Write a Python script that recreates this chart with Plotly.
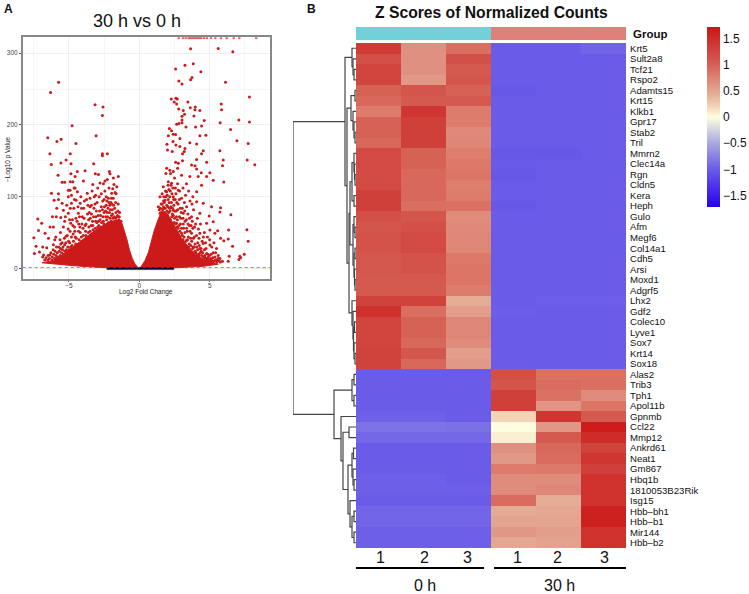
import plotly.graph_objects as go

W, H = 749, 594

# ---------- Panel A: volcano ----------
left_points = [
(-5.73,259.5),(-6.3,245),(-6.5,182),(-5.85,177),(-5.55,180),(-6.35,160),(-6.25,145),(-5.57,147),(-5.2,151),(-4.9,160),
(-4.5,174),(-4.77,199),(-3.14,228),(-2.58,225),(-2.62,213),(-3.07,185),(-2.62,160),(-2.27,160),(-2.62,157),(-3.24,146),
(-5.77,130),(-4.86,132),(-5.48,120),(-5.3,120),(-4.9,121),(-4.72,121),(-4.85,146),(-3.85,136),(-4.4,135),(-4.56,128),
(-3.12,132),(-2.9,131),(-2.13,135),(-2.08,132),(-2.44,122),(-2.27,124),(-1.84,126),(-1.49,128),(-3.97,122),(-3.3,117),
(-2.79,119),(-1.8,117),(-1.89,111),(-1.96,105),(-4.56,112),(-4.92,109),(-6.24,105),(-6.05,95),(-5.74,96),(-5.74,104),
(-5.86,84),(-5.9,72),(-6.17,72),(-5.58,71),(-5.39,81),(-5.48,91),(-5.04,100),(-4.82,102),(-4.63,112),(-4.4,107),
(-4.49,95),(-5.04,109),(-4.82,91),(-4.2,91),(-4.33,77),(-5.04,77),(-4.87,63),(-5.39,58),(-6.1,58),(-6.34,58),
(-7.21,69),(-6.93,63),(-7.16,53),(-7.49,43),(-6.69,49),(-6.45,42),(-7.33,31),(-6.86,30),(-7.45,21),(-7.09,23),
(-6.57,29),(-6.1,33),(-6.86,16),(-6.34,19),(-5.93,44),(-5.63,40),(-5.6,28),(-5.3,33),(-5.2,45),(-5.05,55),
(-4.95,36),(-4.7,48),(-4.6,58),(-4.5,70),(-4.65,84),(-4.3,62),(-4.2,50),(-4.1,38),(-4.05,72),(-3.95,84),
(-3.85,60),(-3.8,46),(-3.75,96),(-3.7,105),(-3.6,68),(-3.55,78),(-3.5,52),(-3.45,40),(-3.4,88),(-3.3,60),
(-3.25,72),(-3.2,100),(-3.15,46),(-3.05,80),(-3.0,92),(-2.95,58),(-2.9,66),(-2.85,100),(-2.8,48),(-2.75,74),
(-2.7,86),(-2.65,56),(-2.6,94),(-2.55,66),(-2.5,78),(-2.45,108),(-2.4,52),(-2.35,88),(-2.3,62),(-2.25,72),
(-2.2,98),(-2.15,112),(-2.1,58),(-2.05,82),(-2.0,66),(-1.95,90),(-1.9,76),(-1.85,98),(-1.8,62),(-1.75,84),
(-1.7,70),(-1.65,104),(-1.6,66),(-1.55,74),(-1.5,90),(-1.45,68),(-1.4,78),(-1.35,62),(-1.3,66),(-3.6,35),
(-4.45,30),(-5.2,22),(-5.5,16),(-5.9,14),(-6.2,12),(-6.5,12),(-4.8,26),(-4.3,26),(-3.9,32),(-3.2,38),
(-2.6,42),(-2.1,52),(-1.75,60),(-4.0,56),(-3.65,88),(-4.75,68),(-5.3,66),(-5.6,50),(-6.0,40),(-5.45,26),
(-4.15,100),(-3.35,108),(-2.95,112),(-2.55,118),(-1.6,114),(-1.72,106),(-2.35,100),(-3.1,66),(-3.4,76),(-4.55,44),
]
left_dense_points = [
(-1.42,72),(-1.52,80),(-1.58,72),(-1.66,78),(-1.68,92),(-1.78,72),(-1.82,88),(-1.88,70),(-1.92,82),(-1.98,74),
(-2.02,92),(-2.08,70),(-2.12,78),(-2.18,64),(-2.22,84),(-2.28,78),(-2.32,68),(-2.38,72),(-2.42,60),(-2.48,86),
(-2.52,62),(-2.58,72),(-2.62,82),(-2.68,64),(-2.72,58),(-2.78,68),(-2.82,80),(-2.88,60),(-2.92,74),(-2.98,52),
(-3.02,64),(-3.08,72),(-3.12,56),(-3.18,50),(-3.22,84),(-3.28,54),(-3.32,66),(-3.38,48),(-3.42,60),(-3.48,70),
(-3.52,44),(-3.58,58),(-3.62,50),(-3.68,76),(-3.72,42),(-3.78,62),(-3.82,52),(-3.88,40),(-3.92,70),(-3.98,46),
(-4.02,36),(-4.08,62),(-4.12,44),(-4.18,34),(-4.22,58),(-4.28,40),(-4.32,52),(-4.38,32),(-4.42,66),(-4.48,42),
(-4.52,34),(-4.58,52),(-4.62,28),(-4.68,38),(-4.72,60),(-4.78,32),(-4.82,44),(-4.88,30),(-4.92,52),(-4.98,26),
(-5.02,38),(-5.08,30),(-5.12,46),(-5.18,26),(-5.22,36),(-5.28,24),(-5.32,42),(-5.38,20),(-5.42,30),(-5.48,36),
(-5.52,22),(-5.58,34),(-5.62,18),(-5.68,24),(-5.72,30),(-5.78,16),(-5.82,22),(-5.88,30),(-5.92,18),(-5.98,24),
(-6.02,14),(-6.08,20),(-6.12,26),(-6.18,16),(-6.28,22),(-6.38,14),(-6.48,18),(-6.62,15),(-6.72,12),(-6.8,19),
(-2.1,88),(-2.3,94),(-2.5,96),(-2.7,104),(-3.1,102),(-3.5,98),(-3.9,94),(-4.1,84),(-4.35,86),(-4.6,96),
(-4.9,84),(-5.15,88),(-5.25,72),(-4.95,68),(-4.25,72),(-3.5,86),(-3.15,90),(-2.4,80),(-2.15,92),(-1.98,98),
]
right_points = [
(3.64,306),(5.6,306.5),(6.64,302),(3.83,285),(3.24,283),(2.58,278),(4.37,274),(2.81,261),(3.74,266),(3.64,263),
(3.03,257),(6.12,259.5),(7.82,239),(2.27,236),(2.6,237),(2.7,236),(2.48,232),(2.65,229),(3.45,232),(5.82,229),
(5.84,221),(3.97,225),(3.95,221),(4.3,220),(3.62,224),(2.79,222),(3.12,220),(3.21,215),(3.03,212),(3.03,207),
(3.88,212.5),(4.61,206),(7.07,207),(5.74,203),(7.82,204),(2.65,201),(2.81,202),(3.03,203),(3.31,197),(4,197),
(6.48,193.5),(2.13,195),(2.29,192),(4.42,198.6),(4.3,185),(4.73,185.6),(2.06,185),(2.41,187),(2.58,186.5),(2.88,181),
(6.93,178),(7.73,174),(1.96,173),(2.39,177),(2.6,172),(4.07,173.5),(3.59,175),(2.88,170),(3.24,167),(3.19,163),
(4.54,164),(5.72,164),(2.34,163),(2.0,165),(3.07,160),(4.42,160),(5.96,151),(7.66,151),(2.58,148),(2.77,146.5),
(3.07,150),(4.07,152),(4.78,148),(5.91,143),(8.2,144.6),(3.71,144),(3.95,143),(1.94,139.5),(2.17,137),(2.72,139.5),
(4.07,138.6),(4.4,133.5),(5.01,133.5),(4.78,128),(5.25,123),(6.0,120.5),(1.89,132.5),(2.22,132.5),(2.41,135),(3.0,130),
(3.59,128),(4.18,128),(2.06,121),(2.29,118.6),(1.7,114),(2.77,109),(4.07,107),(4.42,116),(1.94,107),(1.47,100),
(1.82,95),(2.41,100),(3.0,98),(3.36,86),(4.07,93),(4.54,91),(5.13,86),(5.77,84.6),(5.72,78.6),(6.5,75),
(4.96,73),(4.3,77),(1.35,86),(1.47,77),(2.41,81),(3.12,77),(3.71,72),(4.78,63),(5.25,65),(5.56,52.6),
(6.34,53.5),(7.64,54),(7.73,38),(5.77,42),(6,38.6),(6.31,41),(6.62,31),(5.37,49),(5.01,53.5),(4.3,49),
(3.71,49),(4.54,35),(5.01,32.6),(5.48,28),(7.45,20),(7.14,17),(7.19,15),(7.07,12.5),(6.38,17),(6.31,10),
(5.72,14),(5.37,16),(4.78,21),(4.3,28),(3.83,30),(3.36,39.5),(3,49),(2.65,63),(2.06,65),(1.7,72),
(1.55,90),(1.62,104),(1.75,84),(1.8,78),(1.88,100),(1.95,88),(2.0,74),(2.05,96),(2.1,110),(2.15,84),
(2.2,68),(2.28,92),(2.35,76),(2.45,88),(2.5,70),(2.55,96),(2.62,80),(2.7,58),(2.75,90),(2.85,72),
(2.92,62),(3.05,84),(3.15,56),(3.25,66),(3.4,52),(3.45,76),(3.55,60),(3.65,42),(3.8,56),(3.9,44),
(4.0,62),(4.15,36),(4.2,55),(4.4,24),(4.55,44),(4.65,18),(4.9,16),(5.1,14),(5.25,22),(5.5,12),
(5.65,11),(5.9,10),(3.1,40),(2.8,46),(2.45,54),(3.5,30),(3.95,24),(4.25,19),(1.65,82),(1.72,94),
(2.25,116),(2.5,126),(2.72,118),(3.35,118),(3.5,108),(3.8,100),(2.6,104),(3.2,92),(3.6,94),(3.85,82),
]
right_dense_points = [
(1.42,82),(1.5,84),(1.56,78),(1.62,90),(1.68,78),(1.72,86),(1.78,92),(1.84,84),(1.9,76),(1.96,80),
(2.02,86),(2.08,78),(2.12,92),(2.18,80),(2.24,86),(2.3,72),(2.36,84),(2.42,74),(2.48,64),(2.52,80),
(2.58,62),(2.64,72),(2.7,68),(2.76,56),(2.82,60),(2.88,52),(2.94,70),(3.0,56),(3.06,46),(3.12,62),
(3.18,44),(3.24,50),(3.3,38),(3.36,56),(3.42,40),(3.48,44),(3.54,34),(3.6,52),(3.66,32),(3.72,38),
(3.78,28),(3.84,42),(3.9,30),(3.96,34),(4.02,22),(4.08,30),(4.14,26),(4.2,20),(4.26,32),(4.32,22),
(4.38,28),(4.44,18),(4.5,22),(4.56,16),(4.62,26),(4.68,15),(4.74,28),(4.8,14),(4.86,20),(4.92,13),
(4.98,18),(5.04,12),(5.1,20),(5.16,11),(5.22,15),(5.3,10),(5.4,12),(5.5,9),(5.6,14),(5.75,9),
(1.74,100),(1.86,108),(1.98,102),(2.04,116),(2.16,100),(2.2,108),(2.32,104),(2.38,112),(2.44,96),(2.56,112),
(2.66,92),(2.72,82),(2.84,96),(2.9,84),(2.98,78),(3.1,70),(3.22,80),(3.34,68),(3.46,62),(3.56,70),
(3.68,60),(3.76,66),(3.92,58),(4.06,46),(4.12,70),(4.24,42),(4.34,62),(4.46,38),(4.62,50),(4.7,36),
(4.84,44),(5.0,40),(5.14,30),(5.3,36),(5.42,22),(5.6,18),(2.86,108),(3.1,112),(3.28,102),(3.74,90),
]
top_row_fc = [2.8,3.1,3.3,3.5,3.6,3.7,3.8,3.9,4.0,4.1,4.2,4.3,4.4,4.6,4.8,5.1,5.4,5.8,6.2,6.7,7.1,8.3]
top_row_p = [321] * len(top_row_fc)
core_left_fc = [-0.05,-0.3,-0.5,-0.7,-0.9,-1.1,-1.25,-1.6,-2.2,-3.0,-3.5,-4.0,-4.5,-5.0,-5.5,-6.1,-6.9,-6.0,-5.0,-4.0,-3.0,-2.3,-0.05]
core_left_p = [0.5,6,14,26,42,55,64,68,64,55,48,41,33,26,18,11,8,6,4.5,3,2,1,0.5]
core_right_fc = [0.05,0.4,0.64,0.87,1.06,1.35,1.55,2.0,2.5,3.0,3.5,4.0,4.5,5.0,5.6,4.5,3.5,2.5,0.05]
core_right_p = [0.5,11,22,39,53,69,78,76,60,42,30,20,14,10,6,3,2,1,0.5]
ns_fc = [-2.3,-0.5,0,0.5,2.45,2.45,0.5,-0.5,-2.3,-2.3]
ns_p = [1.3,1.3,0.3,1.3,1.3,-1.5,-1.5,-1.5,-1.5,1.3]
threshold_fc = [-8.28, 9.28]
threshold_p = [1.3, 1.3]

# ---------- Panel B: heatmap ----------
genes = ["Krt5","Sult2a8","Tcf21","Rspo2","Adamts15","Krt15","Klkb1","Gpr17","Stab2","Tril","Mmrn2","Clec14a","Rgn","Cldn5","Kera","Heph",
         "Gulo","Afm","Megf6","Col14a1","Cdh5","Arsi","Moxd1","Adgrf5","Lhx2","Gdf2","Colec10","Lyve1","Sox7","Krt14","Sox18",
         "Alas2","Trib3","Tph1","Apol11b","Gpnmb","Ccl22","Mmp12","Ankrd61","Neat1","Gm867","Hbq1b","1810053B23Rik","Isg15",
         "Hbb–bh1","Hbb–b1","Mir144","Hbb–b2"]
samples = ["1","2","3","1","2","3"]
sample_pixels = [380,424,467,517,557,604]
z_0h_1 = [1.35,1.15,1.25,1.25,1.0,.95,.8,1.0,1.0,.95,1.2,1.2,1.2,1.2,1.3,1.3,1.15,1.1,1.12,1.12,1.08,1.08,1.05,1.05,1.28,1.45,1.25,1.25,1.25,1.28,1.28,
          -1,-1,-1,-1,-.97,-.85,-.92,-1,-1,-1,-.98,-.98,-1,-.94,-.94,-.98,-.98]
z_0h_2 = [.65,.65,.65,.58,1.1,1.05,1.4,1.3,1.3,1.3,1.0,1.0,.95,.95,.95,.9,1.1,1.15,1.2,1.2,1.12,1.12,1.05,1.05,1.28,.9,1.0,1.0,.95,1.08,.95,
          -1,-1,-1,-1,-.97,-.85,-.92,-1,-1,-1,-.98,-.98,-1,-.94,-.94,-.98,-.98]
z_0h_3 = [.9,1.15,1.05,1.1,1.0,1.05,.8,.8,.7,.72,.78,.82,.85,.78,.8,.88,.68,.7,.72,.72,.82,.85,.85,.8,.45,.55,.72,.72,.68,.55,.58,
          -1,-1,-1,-1,-1,-.87,-.92,-1,-1,-1,-1,-.98,-1,-.94,-.94,-.98,-.98]
z_30h_1 = [-1,-1,-1,-1,-1.03,-1,-1,-1,-1,-1,-1.03,-1.01,-1.03,-1,-1,-1.03,-1,-1,-1,-1,-1,-1,-1,-1,-1,-.99,-1,-1,-1,-1,-1,
           1.15,1.1,1.3,1.32,.2,0.0,.07,.65,.58,.8,.68,.68,.92,.45,.5,.6,.48]
z_30h_2 = [-1,-1,-1,-1,-1,-1,-1,-1,-1,-1,-1.03,-1,-1,-1,-1,-1,-1,-1,-1,-1,-1,-1,-1,-1,-.99,-1,-1,-1,-1,-1,-1,
           .88,.92,.88,.62,1.4,.6,1.05,.95,.92,.82,.68,.72,.45,.48,.5,.55,.52]
z_30h_3 = [-.95,-1,-1,-1,-1,-1,-1,-1,-1,-1,-1,-1,-1,-1,-1,-1,-1,-1,-1,-1,-1,-1,-1,-1,-.99,-1,-1,-1,-1,-1,-1,
           .88,.9,.68,.85,1.05,1.65,1.5,1.28,1.4,1.3,1.45,1.45,1.45,1.6,1.6,1.45,1.45]
colorbar_ticks = [-1.5,-1,-0.5,0,0.5,1,1.5]
colorbar_labels = ["−1.5","−1","−0.5","0","0.5","1","1.5"]
group_codes = [0,0,0,1,1,1]

# row dendrogram: (merge height, child, child); a bare integer is a row
cluster_c1 = (4,0,(3,1,(2,2,3)))
cluster_c3 = (5,(1,4,5),(3,6,(2,7,(1,8,9))))
cluster_m = (4,(2,10,(1.5,11,(1,12,13))),(2,14,15))
cluster_g = (3,(2,16,(1,17,18)),(2,(1,19,20),(1.5,21,(1,22,23))))
cluster_c6 = (4,24,(3,25,(2.5,(1.5,26,27),(2,28,(1,29,30)))))
cluster_up = (11,cluster_c1,(9,cluster_c3,(7,(6,cluster_m,cluster_g),cluster_c6)))
cluster_l1 = (4,(2,31,32),(2,33,34))
cluster_l5 = (4,(2.5,38,39),(3,40,(2,41,42)))
cluster_l6 = (6,43,(4,(2,44,45),(2,46,47)))
cluster_low = (22,cluster_l1,(15,35,(13,(7,36,37),(8,cluster_l5,cluster_l6))))
row_tree = (63,cluster_up,cluster_low)

dx, dy = [], []
def walk(node):
    if isinstance(node, int):
        return 0, node
    h, a, b = node
    ha, ya = walk(a)
    hb, yb = walk(b)
    dx.extend([ha, h, h, hb, None])
    dy.extend([ya, ya, yb, yb, None])
    return h, (ya + yb) / 2
walk(row_tree)

FONT = "Liberation Sans"
ZMAX = 1.72
def st(v):
    return (v + ZMAX) / (2 * ZMAX)
scale = [[st(-1.72),"#2800f0"],[st(-1.0),"#6a5ce8"],[st(-.5),"#aaa8e0"],[st(-.2),"#dcdce0"],[st(0),"#fdfde0"],
         [st(.2),"#f3d5b5"],[st(.45),"#e4ab95"],[st(.65),"#e09080"],[st(.85),"#dc7565"],[st(1.05),"#d45a50"],
         [st(1.3),"#d0403a"],[st(1.72),"#cc1515"]]

def dom_x(a, b): return [a / W, b / W]
def dom_y(top, bot): return [1 - bot / H, 1 - top / H]

fig = go.Figure()
RED = "#cc1a1a"
fig.add_trace(go.Scatter(x=core_left_fc, y=core_left_p, mode="lines", fill="toself", fillcolor=RED, line=dict(color=RED, width=1), hoverinfo="skip", xaxis="x", yaxis="y"))
fig.add_trace(go.Scatter(x=core_right_fc, y=core_right_p, mode="lines", fill="toself", fillcolor=RED, line=dict(color=RED, width=1), hoverinfo="skip", xaxis="x", yaxis="y"))
for pts in (left_points, left_dense_points, right_points, right_dense_points):
    fig.add_trace(go.Scatter(x=[p[0] for p in pts], y=[p[1] for p in pts], mode="markers", marker=dict(color=RED, size=3), xaxis="x", yaxis="y"))
fig.add_trace(go.Scatter(x=top_row_fc, y=top_row_p, mode="markers", marker=dict(color="#e06060", size=2.6), xaxis="x", yaxis="y"))
fig.add_trace(go.Scatter(x=ns_fc, y=ns_p, mode="lines", fill="toself", fillcolor="#0a0a30", line=dict(color="#0a0a30", width=0.5), xaxis="x", yaxis="y"))
fig.add_trace(go.Scatter(x=threshold_fc, y=threshold_p, mode="lines", line=dict(color="rgba(70,70,255,0.7)", width=1, dash="dot"), xaxis="x", yaxis="y"))

z_rows = [list(r) for r in zip(z_0h_1, z_0h_2, z_0h_3, z_30h_1, z_30h_2, z_30h_3)]
fig.add_trace(go.Heatmap(z=z_rows, x=list(range(6)), y=list(range(len(genes))), zmin=-ZMAX, zmax=ZMAX, colorscale=scale,
    xgap=0, ygap=0, xaxis="x2", yaxis="y2",
    colorbar=dict(x=707/W, xanchor="left", y=1-27/H, yanchor="top", lenmode="pixels", len=180, thickness=13, thicknessmode="pixels",
                  xpad=0, ypad=0, outlinewidth=0, tickvals=colorbar_ticks, ticktext=colorbar_labels, ticks="",
                  tickfont=dict(family=FONT, size=12, color="#111"))))
fig.add_trace(go.Heatmap(z=[group_codes], x=list(range(6)), y=[0], zmin=0, zmax=1, showscale=False,
    colorscale=[[0,"#72d0d8"],[1,"#e0807a"]], xaxis="x3", yaxis="y3"))
fig.add_trace(go.Scatter(x=dx, y=dy, mode="lines", line=dict(color="#444", width=1.2), xaxis="x4", yaxis="y4"))

hidden = dict(visible=False, showgrid=False, zeroline=False)
fig.update_layout(
    width=W, height=H, autosize=False, margin=dict(l=0, r=0, t=0, b=0), showlegend=False,
    paper_bgcolor="white", plot_bgcolor="white", font=dict(family=FONT),
    xaxis=dict(domain=dom_x(22.7,270), range=[-8.28,9.28], tick0=0, dtick=5, showgrid=True, gridcolor="#efefef", gridwidth=1,
               minor=dict(dtick=2.5, showgrid=True, gridcolor="#f6f6f6", gridwidth=1), zeroline=False,
               showline=True, mirror=True, linecolor="#888", linewidth=1.5, ticks="outside", ticklen=1, tickcolor="#555",
               ticklabelstandoff=-2, tickfont=dict(size=6.5, color="#444")),
    yaxis=dict(domain=dom_y(37.3,279.3), range=[-15,322], tick0=0, dtick=100, showgrid=True, gridcolor="#efefef", gridwidth=1,
               minor=dict(dtick=50, showgrid=True, gridcolor="#f6f6f6", gridwidth=1), zeroline=False,
               showline=True, mirror=True, linecolor="#888", linewidth=1.5, ticks="outside", ticklen=2, tickcolor="#555",
               tickfont=dict(size=6.5, color="#444")),
    xaxis2=dict(domain=dom_x(356,626), range=[-0.5,5.5], showticklabels=False, showgrid=False, zeroline=False, ticks="", anchor="y2"),
    yaxis2=dict(domain=dom_y(43,548), range=[47.5,-0.5], tickvals=list(range(len(genes))), ticktext=genes, side="right", showgrid=False, zeroline=False,
                ticks="", ticklabelstandoff=3, tickfont=dict(size=9.6, color="#111"), anchor="x2", automargin=False),
    xaxis3=dict(domain=dom_x(356,626), range=[-0.5,5.5], anchor="y3", **hidden),
    yaxis3=dict(domain=dom_y(27,40), range=[-0.5,0.5], anchor="x3", **hidden),
    xaxis4=dict(domain=dom_x(293,356), range=[63,0], anchor="y4", **hidden),
    yaxis4=dict(domain=dom_y(43,548), range=[47.5,-0.5], anchor="x4", **hidden),
    shapes=[dict(type="line", xref="paper", yref="paper", x0=a/W, x1=b/W, y0=1-568/H, y1=1-568/H, line=dict(color="black", width=2))
            for a, b in ((356,484),(494,626))],
)
def note(x, y, text, size, bold=False, anchor="center", angle=0, color="#111"):
    fig.add_annotation(xref="paper", yref="paper", x=x/W, y=1-y/H, text=f"<b>{text}</b>" if bold else text, showarrow=False,
                       xanchor=anchor, yanchor="middle", textangle=angle, font=dict(family=FONT, size=size, color=color))
note(8, 9, "A", 12, True)
note(311, 9, "B", 12, True)
note(137, 21, "30 h vs 0 h", 18)
note(491, 13, "Z Scores of Normalized Counts", 15.7, True)
note(631, 34, "Group", 11.5, True, "left")
note(146, 292, "Log2 Fold Change", 6.5, color="#222")
note(8, 159, "−Log10 p Value", 6.5, angle=-90, color="#222")
for px, label in zip(sample_pixels, samples):
    note(px, 557, label, 16)
note(425, 585, "0 h", 16)
note(559, 585, "30 h", 16)

fig.write_html("out.html", config={"displayModeBar": False},
               post_script="document.body.style.margin='0';document.body.style.overflow='hidden';")
